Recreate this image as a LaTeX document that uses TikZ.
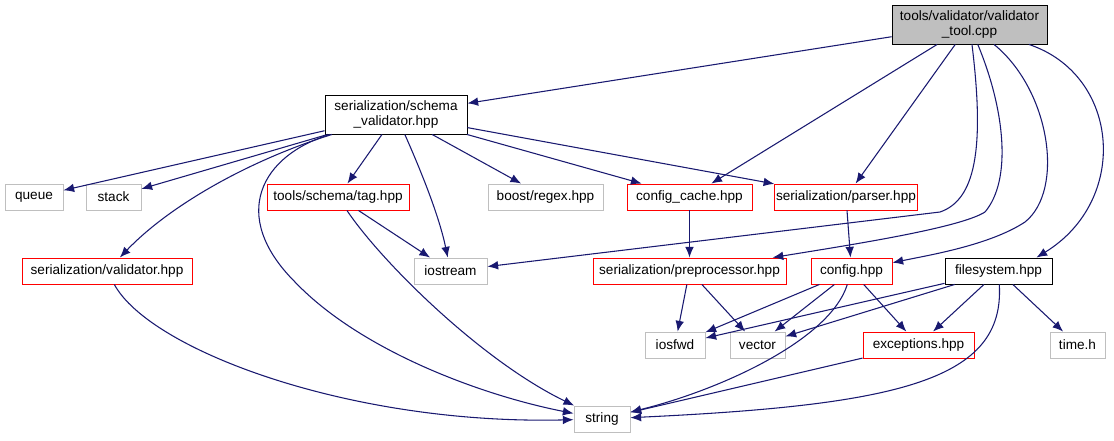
\documentclass[tikz,border=0pt]{standalone}
\usepackage{fontspec}
\setmainfont{Liberation Sans}
\usetikzlibrary{arrows.meta}
\definecolor{edgeblue}{HTML}{191970}
\definecolor{docred}{HTML}{FF0000}
\definecolor{leafgray}{HTML}{BFBFBF}

\begin{document}
\begin{tikzpicture}[x=0.75pt, y=-0.75pt]
 \tikzstyle{file}=[rectangle, draw, line width=0.7pt, text=black, align=center, inner sep=1pt, minimum height=19.5pt, font=\fontsize{10.2}{11.4}\selectfont]
 \tikzstyle{docfile}=[file, draw=black]
 \tikzstyle{redfile}=[file, draw=docred]
 \tikzstyle{sysfile}=[file, draw=leafgray]
 \tikzstyle{dep}=[-{Latex[length=8pt, width=6.5pt]}, draw=edgeblue, fill=none, line width=0.8pt]
 \useasboundingbox (0,0) rectangle (1114,440);
 %
 \node[docfile, fill=leafgray, minimum width=116.25pt, minimum height=29.25pt] (tool) at (969.5, 24.5) {tools/validator/validator\\\_tool.cpp};
 \node[docfile, minimum width=106.5pt, minimum height=29.25pt] (schemav) at (396, 114.5) {serialization/schema\\\_validator.hpp};
 %
 \node[sysfile, minimum width=43.5pt] (queue) at (34, 197) {queue};
 \node[sysfile, minimum width=41.25pt] (stack) at (113.5, 197) {stack};
 \node[redfile, minimum width=106.5pt] (tag) at (338, 197) {tools/schema/tag.hpp};
 \node[sysfile, minimum width=86.25pt] (regex) at (545.5, 197) {boost/regex.hpp};
 \node[redfile, minimum width=93.75pt] (cache) at (689.5, 197) {config\_cache.hpp};
 \node[redfile, minimum width=106.5pt] (parser) at (846, 197) {serialization/parser.hpp};
 %
 \node[redfile, minimum width=127.5pt] (valid) at (107, 271) {serialization/validator.hpp};
 \node[sysfile, minimum width=54.75pt] (iostream) at (450.5, 271) {iostream};
 \node[redfile, minimum width=144.75pt] (prepro) at (689.5, 271) {serialization/preprocessor.hpp};
 \node[redfile, minimum width=60.75pt] (config) at (851.5, 271) {config.hpp};
 \node[docfile, minimum width=80.25pt] (fsys) at (998.5, 271) {filesystem.hpp};
 %
 \node[sysfile, minimum width=45pt] (iosfwd) at (675, 345) {iosfwd};
 \node[sysfile, minimum width=41.25pt] (vector) at (757.5, 345) {vector};
 \node[redfile, minimum width=83.25pt] (except) at (918.5, 345) {exceptions.hpp};
 \node[sysfile, minimum width=41.25pt] (timeh) at (1077.5, 345) {time.h};
 %
 \node[sysfile, minimum width=42pt] (string) at (602, 419) {string};
 %%
 \draw[dep] (tool)--(schemav);
 \draw[dep] (tool)--(cache);
 \draw[dep] (tool)--(parser);
 \draw[dep] (tool) .. controls (985,150) and (975,200) .. (940,212) -- (iostream);
 \draw[dep] (tool) .. controls (1005,110) and (1012,180) .. (985,212) .. controls (960,228) and (850,245) .. (prepro);
 \draw[dep] (tool) .. controls (1050,90) and (1065,190) .. (1025,222) .. controls (990,245) and (930,255) .. (config);
 \draw[dep] (tool) .. controls (1120,75) and (1130,200) .. ([xshift=-12pt]fsys.north east);
 %
 \draw[dep] (schemav)--(queue);
 \draw[dep] (schemav)--(stack);
 \draw[dep] (schemav) .. controls (250,160) and (170,205) .. (valid);
 \draw[dep] (schemav) .. controls (262,155) and (228,215) .. (295,282) .. controls (360,350) and (480,395) .. (string);
 \draw[dep] (schemav)--(tag);
 \draw[dep] (schemav) .. controls (425,180) and (440,220) .. (iostream);
 \draw[dep] (schemav)--(regex);
 \draw[dep] (schemav)--(cache);
 \draw[dep] (schemav)--(parser);
 %
 \draw[dep] (tag)--(iostream);
 \draw[dep] (tag) .. controls (380,260) and (480,360) .. (string);
 \draw[dep] (valid) .. controls (150,350) and (350,425) .. (string);
 \draw[dep] (cache)--(prepro);
 \draw[dep] (parser)--(config);
 \draw[dep] (prepro)--(iosfwd);
 \draw[dep] (prepro)--(vector);
 %
 \draw[dep] (config)--(iosfwd);
 \draw[dep] (config)--(vector);
 \draw[dep] (config)--(except);
 \draw[dep] (config) .. controls (830,340) and (720,390) .. (string);
 \draw[dep] (fsys)--(iosfwd);
 \draw[dep] (fsys)--(vector);
 \draw[dep] (fsys)--(except);
 \draw[dep] (fsys)--(timeh);
 \draw[dep] (fsys) .. controls (1005,380) and (900,405) .. (string);
 \draw[dep] (except)--(string);
\end{tikzpicture}
\end{document}
